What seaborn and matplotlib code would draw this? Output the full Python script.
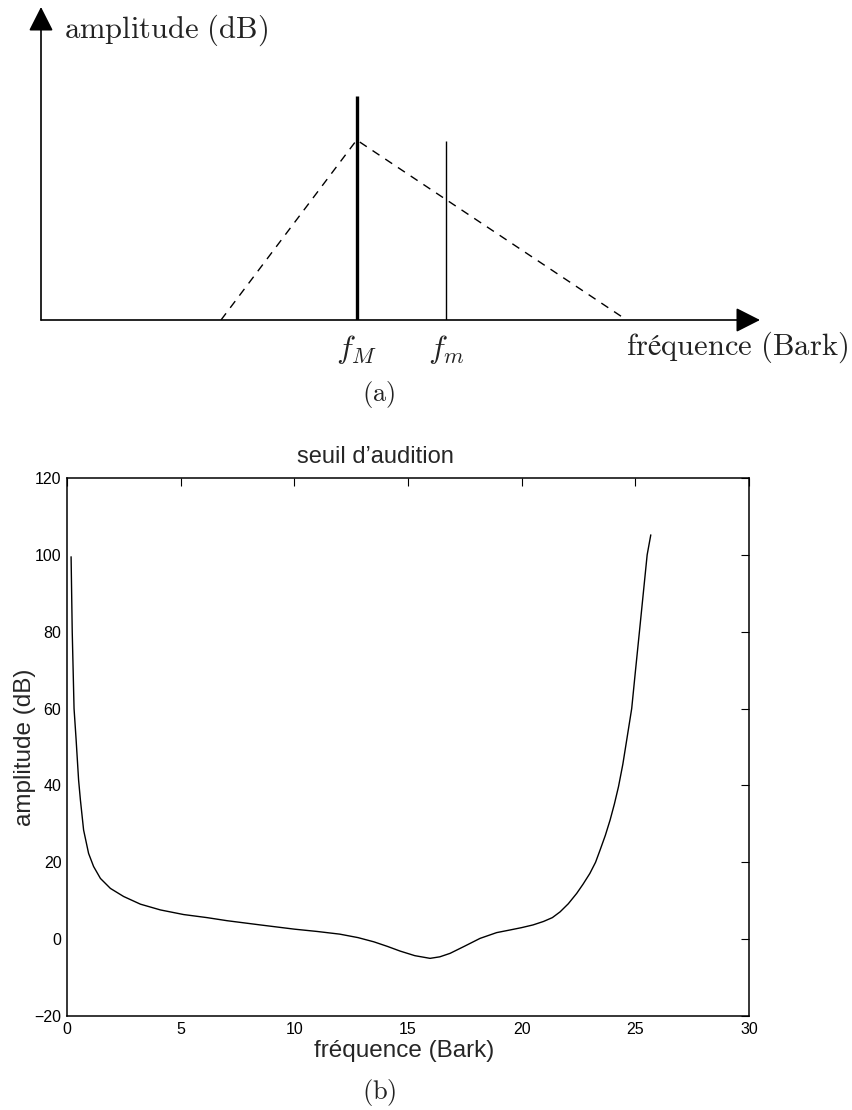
import matplotlib
matplotlib.use("Agg")
import matplotlib.pyplot as plt
import seaborn as sns
import pandas as pd
import numpy as np

sns.set_theme(style="white")
plt.rcParams['font.family'] = ['Liberation Sans', 'DejaVu Sans']
plt.rcParams['mathtext.fontset'] = 'cm'

# ---------------- data ----------------
# Panel (a): schematic (arbitrary units)
stem_x = [315.7, 405.0]          # f_M, f_m
stem_h = [224.0, 179.3]          # masker, maskee heights
stem_lw = [2.4, 1.0]
stem_labels = [r'$f_M$', r'$f_m$']
spread_x = [180.0, 315.7, 585.7]  # masking threshold triangle
spread_y = [0.0, 180.0, 0.0]

# Panel (b): threshold of hearing (Bark, dB)
bark = [0.18, 0.23, 0.31, 0.40, 0.51, 0.59, 0.73, 0.95, 1.17, 1.47, 1.91,
        2.49, 3.23, 4.11, 5.13, 6.16, 7.04, 8.5, 10.0, 11.0, 12.0, 12.8,
        13.5, 14.1, 14.65, 15.3, 15.97, 16.4, 16.85, 17.5, 18.17, 18.9,
        19.5, 20.0, 20.5, 20.96, 21.35, 21.69, 22.05, 22.42, 22.7, 23.0,
        23.25, 23.45, 23.68, 23.89, 24.08, 24.26, 24.45, 24.62, 24.84,
        25.0, 25.18, 25.35, 25.52, 25.68]
db = [99.5, 80.0, 60.0, 52.0, 41.4, 36.2, 28.4, 22.3, 18.9, 15.8, 13.2,
      11.1, 9.1, 7.6, 6.4, 5.6, 4.8, 3.7, 2.6, 2.0, 1.3, 0.4,
      -0.7, -1.9, -3.1, -4.3, -5.0, -4.6, -3.7, -1.8, 0.2, 1.7,
      2.4, 3.0, 3.7, 4.6, 5.6, 7.1, 9.2, 11.9, 14.3, 17.1,
      20.0, 23.2, 27.0, 31.0, 35.2, 39.7, 45.5, 51.8, 60.0,
      69.5, 80.0, 90.0, 100.0, 105.2]

x_ticks = [0, 5, 10, 15, 20, 25, 30]
y_ticks = [-20, 0, 20, 40, 60, 80, 100, 120]

# ---------------- figure ----------------
W, H = 853, 1110
fig = plt.figure(figsize=(W / 100, H / 100), dpi=100)

# ---- panel (a) ----
axa = fig.add_axes([41 / W, 1 - 320 / H, (760 - 41) / W, (320 - 7) / H])
axa.set_xlim(0, 719)
axa.set_ylim(0, 313)
axa.axis('off')

sns.lineplot(x=spread_x, y=spread_y, ax=axa, color='black', lw=1.0,
             dashes=False, linestyle=(0, (6, 5)), sort=False)
for xs, hs, lw in zip(stem_x, stem_h, stem_lw):
    axa.vlines(xs, 0, hs, color='black', lw=lw)

arrow = dict(arrowstyle='-|>,head_length=0.75,head_width=0.38',
             mutation_scale=20, color='black', lw=1.2,
             shrinkA=0, shrinkB=0)
axa.annotate('', xy=(719, 0), xytext=(0, 0), arrowprops=arrow)
axa.annotate('', xy=(0, 313), xytext=(0, 0), arrowprops=arrow)

serif = dict(color='#222222', fontsize=22)
fig.text(64 / W, 1 - 30 / H, r'$\mathrm{amplitude\ (dB)}$', ha='left',
         va='center', **serif)
for xs, lab in zip(stem_x, stem_labels):
    fig.text((xs + 41) / W, 1 - 350 / H, lab, ha='center', va='center',
             color='#222222', fontsize=23)
fig.text(848 / W, 1 - 347 / H, '$\\mathrm{fr\u00e9quence\\ (Bark)}$',
         ha='right', va='center', **serif)
fig.text(379 / W, 1 - 395 / H, r'$\mathrm{(a)}$', ha='center',
         va='center', color='#222222', fontsize=19)

# ---- panel (b) ----
axb = fig.add_axes([67 / W, 1 - 1016 / H, (749 - 67) / W, (1016 - 478) / H])
df = pd.DataFrame({'bark': bark, 'db': db})
sns.lineplot(data=df, x='bark', y='db', ax=axb, color='black', lw=1.0,
             sort=False)
axb.set_xlim(0, 30)
axb.set_ylim(-20, 120)
axb.set_xticks(x_ticks)
axb.set_yticks(y_ticks)
axb.set_xticklabels([str(v) for v in x_ticks])
axb.set_yticklabels([('\u221220' if v < 0 else str(v)) for v in y_ticks])
axb.tick_params(direction='in', length=6, width=0.8, top=True, right=True,
                labelsize=11.5, colors='black', pad=4)
for s in axb.spines.values():
    s.set_color('black')
    s.set_linewidth(1.1)
    s.set_visible(True)
axb.set_xlabel('fréquence (Bark)', fontsize=17.5)
axb.set_ylabel('amplitude (dB)', fontsize=17.5)
axb.xaxis.set_label_coords((404 - 67) / 682, (1016 - 1051) / 538)
axb.xaxis.label.set_va('center')
axb.yaxis.set_label_coords((25 - 67) / 682, 0.5)
axb.yaxis.label.set_va('center')
axb.set_title('seuil d\u2019audition', fontsize=17, x=(375 - 67) / 682,
              y=(1016 - 457) / 538, va='center', pad=0)
axb.grid(False)

fig.text(379 / W, 1 - 1093 / H, r'$\mathrm{(b)}$', ha='center',
         va='center', color='#222222', fontsize=19)

fig.savefig('out.png', dpi=100, facecolor='white')
